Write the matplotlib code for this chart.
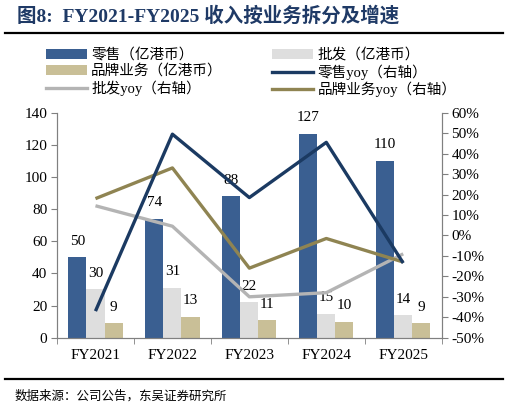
import matplotlib
matplotlib.use("Agg")
import matplotlib.pyplot as plt
from matplotlib.patches import Patch
from matplotlib.lines import Line2D
from matplotlib.ticker import FuncFormatter, FixedLocator
import numpy as np

# ---- data ----
categories = ["FY2021", "FY2022", "FY2023", "FY2024", "FY2025"]
retail = [50, 74, 88, 127, 110]
wholesale = [30, 31, 22, 15, 14]
brand = [9, 13, 11, 10, 9]
retail_yoy = [-37, 49.5, 18.5, 45.5, -13.5]
wholesale_yoy = [14.5, 4.5, -30, -28, -9]
brand_yoy = [18, 33, -16, -1.5, -13]

legend_labels = ["零售（亿港币）", "批发（亿港币）", "品牌业务（亿港币）",
                 "零售yoy（右轴）", "批发yoy（右轴）", "品牌业务yoy（右轴）"]

c_retail = "#3A5F91"
c_whole = "#DEDEDE"
c_brand = "#C9BF97"
c_retail_l = "#1B3A62"
c_whole_l = "#B4B4B4"
c_brand_l = "#8F8452"

FAM = ["Liberation Serif", "Noto Sans CJK SC", "DejaVu Sans"]
plt.rcParams['font.family'] = FAM

W, H = 509, 413
fig = plt.figure(figsize=(W / 100, H / 100), dpi=100)

L, R, T, B = 57, 441.7, 112.7, 337.7
ax = fig.add_axes([L / W, (H - B) / H, (R - L) / W, (B - T) / H])
ax2 = ax.twinx()

x = np.arange(len(categories))
bw = 0.235
ax.bar(x - bw, retail, bw, color=c_retail, zorder=2)
ax.bar(x, wholesale, bw, color=c_whole, zorder=2)
ax.bar(x + bw, brand, bw, color=c_brand, zorder=2)

for xs, vals in ((x - bw, retail), (x, wholesale), (x + bw, brand)):
    for xi, v in zip(xs, vals):
        ax.annotate(str(v), (xi, v), xytext=(0, 11.5), textcoords="offset points",
                    ha="center", va="center", fontsize=11, family=FAM, zorder=5)

ax.set_xlim(-0.5, 4.5)
ax.set_ylim(0, 140)
ax.set_yticks(np.arange(0, 141, 20))
ax.set_xticks(x)
ax.set_xticklabels(categories)
ax.xaxis.set_minor_locator(FixedLocator(np.arange(-0.5, 4.6, 1)))
ax.tick_params(axis="x", which="major", length=0, pad=8, labelsize=11)
ax.tick_params(axis="x", which="minor", length=4, direction="out", color="#808080")
ax.tick_params(axis="y", length=4, direction="out", color="#808080", labelsize=11, pad=3)

ax2.plot(x, wholesale_yoy, color=c_whole_l, lw=2.4, zorder=3, solid_capstyle="butt")
ax2.plot(x, brand_yoy, color=c_brand_l, lw=2.4, zorder=3, solid_capstyle="butt")
ax2.plot(x, retail_yoy, color=c_retail_l, lw=2.4, zorder=4, solid_capstyle="butt")
ax2.set_ylim(-50, 60)
ax2.set_yticks(np.arange(-50, 61, 10))
ax2.yaxis.set_major_formatter(FuncFormatter(lambda v, p: f"{int(round(v))}%"))
ax2.tick_params(axis="y", length=4, direction="out", color="#808080", labelsize=11, pad=3)

for a in (ax, ax2):
    a.spines["top"].set_visible(False)
    for s in ("left", "right", "bottom"):
        a.spines[s].set_color("#808080")
        a.spines[s].set_linewidth(0.8)

handles = [
    Patch(facecolor=c_retail, edgecolor="none"),
    Patch(facecolor=c_brand, edgecolor="none"),
    Line2D([], [], color=c_whole_l, lw=2.4),
    Patch(facecolor=c_whole, edgecolor="none"),
    Line2D([], [], color=c_retail_l, lw=2.4),
    Line2D([], [], color=c_brand_l, lw=2.4),
]
labels = [legend_labels[0], legend_labels[2], legend_labels[4],
          legend_labels[1], legend_labels[3], legend_labels[5]]
fig.legend(handles, labels, ncol=2, loc="upper left",
           bbox_to_anchor=(46 / W, 1 - 48 / H), frameon=False,
           prop={"family": FAM, "size": 10.5}, handlelength=2.8, handleheight=0.7,
           handletextpad=0.3, columnspacing=3.4, labelspacing=0.15,
           borderaxespad=0, borderpad=0)

# title and rules
fig.text(17 / W, 1 - 16 / H, "图8:  FY2021-FY2025 收入按业务拆分及增速", family=FAM,
         fontsize=14, fontweight="bold", color="#1F3A66", va="center", ha="left")
fig.add_artist(Line2D([5 / W, 503 / W], [1 - 33 / H] * 2, color="black", lw=1.6))
fig.add_artist(Line2D([5 / W, 503 / W], [1 - 379 / H] * 2, color="black", lw=1.6))
fig.text(15 / W, 1 - 396 / H, "数据来源：公司公告，东吴证券研究所", family=FAM,
         fontsize=9, color="black", va="center", ha="left")

fig.savefig("out.png", dpi=100)
